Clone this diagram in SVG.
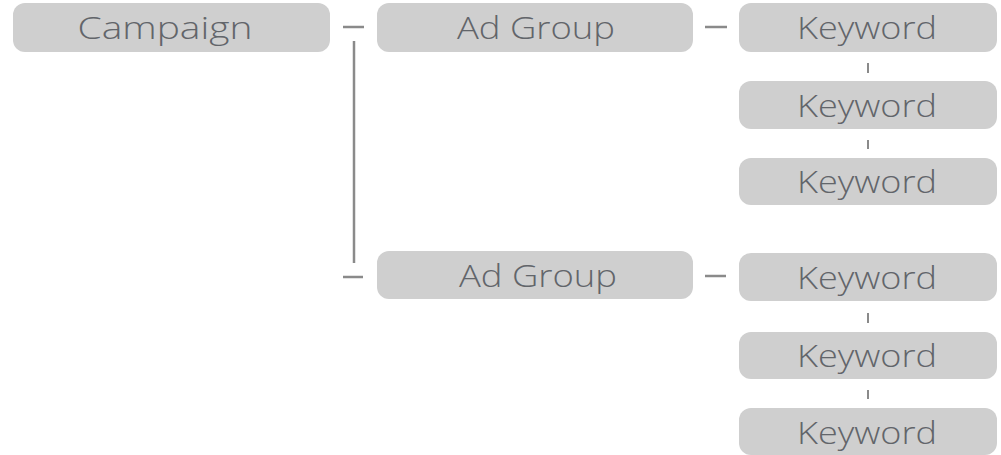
<svg xmlns="http://www.w3.org/2000/svg" width="1001" height="455" viewBox="0 0 1001 455">
  <style>
    .box { fill: #cfcfcf; }
    .lbl { font-family: "Open Sans", "Noto Sans", "Liberation Sans", sans-serif; font-size: 32px; font-weight: 300; fill: #62656a; text-anchor: middle; }
    .link { stroke: #8a8a8a; stroke-width: 2.5; fill: none; }
    .tick { stroke: #8a8a8a; stroke-width: 2; fill: none; }
  </style>
  <rect width="1001" height="455" fill="#ffffff"/>

  <g id="connectors">
    <line class="link" x1="343" y1="27" x2="364" y2="27"/>
    <line class="link" x1="354" y1="41" x2="354" y2="263"/>
    <line class="link" x1="343" y1="277" x2="363" y2="277"/>
    <line class="link" x1="705" y1="27" x2="727" y2="27"/>
    <line class="link" x1="705" y1="276" x2="726" y2="276"/>
    <line class="tick" x1="868" y1="63" x2="868" y2="73"/>
    <line class="tick" x1="868" y1="140" x2="868" y2="149"/>
    <line class="tick" x1="868" y1="313" x2="868" y2="323"/>
    <line class="tick" x1="868" y1="390" x2="868" y2="399"/>
  </g>

  <g id="campaign">
    <rect class="box" x="13" y="3" width="317" height="49" rx="12"/>
    <text class="lbl" x="165" y="39" textLength="175" lengthAdjust="spacingAndGlyphs">Campaign</text>
  </g>

  <g id="adgroup-1">
    <rect class="box" x="377" y="3" width="316" height="49" rx="12"/>
    <text class="lbl" x="536" y="39" textLength="158" lengthAdjust="spacingAndGlyphs">Ad Group</text>
  </g>

  <g id="adgroup-2">
    <rect class="box" x="377" y="251" width="316" height="48" rx="12"/>
    <text class="lbl" x="538" y="287" textLength="158" lengthAdjust="spacingAndGlyphs">Ad Group</text>
  </g>

  <g id="keyword-1">
    <rect class="box" x="739" y="3" width="258" height="49" rx="12"/>
    <text class="lbl" x="867" y="39" textLength="140" lengthAdjust="spacingAndGlyphs">Keyword</text>
  </g>
  <g id="keyword-2">
    <rect class="box" x="739" y="81" width="258" height="48" rx="12"/>
    <text class="lbl" x="867" y="117" textLength="140" lengthAdjust="spacingAndGlyphs">Keyword</text>
  </g>
  <g id="keyword-3">
    <rect class="box" x="739" y="158" width="258" height="47" rx="12"/>
    <text class="lbl" x="867" y="193" textLength="140" lengthAdjust="spacingAndGlyphs">Keyword</text>
  </g>

  <g id="keyword-4">
    <rect class="box" x="739" y="253" width="258" height="48" rx="12"/>
    <text class="lbl" x="867" y="289" textLength="140" lengthAdjust="spacingAndGlyphs">Keyword</text>
  </g>
  <g id="keyword-5">
    <rect class="box" x="739" y="332" width="258" height="47" rx="12"/>
    <text class="lbl" x="867" y="367" textLength="140" lengthAdjust="spacingAndGlyphs">Keyword</text>
  </g>
  <g id="keyword-6">
    <rect class="box" x="739" y="408" width="258" height="47" rx="12"/>
    <text class="lbl" x="867" y="444" textLength="140" lengthAdjust="spacingAndGlyphs">Keyword</text>
  </g>
</svg>
